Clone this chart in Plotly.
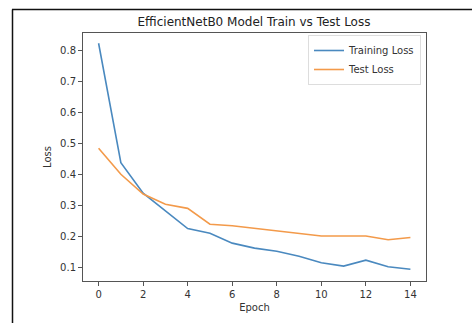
import plotly.graph_objects as go

epochs = list(range(15))
train_loss = [0.824, 0.439, 0.341, 0.284, 0.227, 0.212, 0.180, 0.164, 0.154, 0.138, 0.117, 0.106, 0.125, 0.104, 0.096]
test_loss = [0.486, 0.402, 0.338, 0.305, 0.292, 0.241, 0.236, 0.228, 0.220, 0.213, 0.203, 0.203, 0.203, 0.191, 0.198]
x_ticks = [0, 2, 4, 6, 8, 10, 12, 14]
y_ticks = [0.1, 0.2, 0.3, 0.4, 0.5, 0.6, 0.7, 0.8]

W, H = 472, 323
ml, mr, mt, mb = 83, 46, 33, 42
pw, ph = W - ml - mr, H - mt - mb

def px2paper_x(px):
    return (px - ml) / pw

def px2paper_y(py):
    return 1 - (py - mt) / ph

font = "DejaVu Sans"
fig = go.Figure()
fig.add_trace(go.Scatter(x=epochs, y=train_loss, mode="lines", name="Training Loss",
                         line=dict(color="#4a89bf", width=1.6)))
fig.add_trace(go.Scatter(x=epochs, y=test_loss, mode="lines", name="Test Loss",
                         line=dict(color="#f39a4a", width=1.6)))

axis_common = dict(showline=True, mirror=True, linecolor="#555555", linewidth=1,
                   ticks="outside", ticklen=4, tickcolor="#555555", showgrid=False,
                   zeroline=False, tickfont=dict(family=font, size=10, color="#333333"))

fig.update_layout(
    width=W, height=H,
    margin=dict(l=ml, r=mr, t=mt, b=mb),
    plot_bgcolor="white", paper_bgcolor="white",
    title=dict(text="EfficientNetB0 Model Train vs Test Loss", x=px2paper_x(254), xref="paper",
               xanchor="center", y=1 - 22 / H, yanchor="middle",
               font=dict(family=font, size=12, color="#222222")),
    xaxis=dict(range=[-0.7, 14.7], tickvals=x_ticks, ticktext=[str(v) for v in x_ticks],
               title=dict(text="Epoch", font=dict(family=font, size=10, color="#333333"), standoff=4),
               **axis_common),
    yaxis=dict(range=[0.058, 0.857], tickvals=y_ticks, ticktext=[f"{v:.1f}" for v in y_ticks],
               title=dict(text="Loss", font=dict(family=font, size=10, color="#333333"), standoff=6),
               **axis_common),
    legend=dict(x=px2paper_x(421), xanchor="right", y=px2paper_y(35), yanchor="top",
                bgcolor="rgba(255,255,255,0.8)", bordercolor="#dddddd", borderwidth=1,
                font=dict(family=font, size=10, color="#333333"), itemwidth=30,
                tracegroupgap=0),
    showlegend=True,
)

# screenshot frame lines (top and left)
fig.add_shape(type="line", xref="paper", yref="paper",
              x0=px2paper_x(12), x1=px2paper_x(W + 5), y0=px2paper_y(9.5), y1=px2paper_y(9.5),
              line=dict(color="#111111", width=1.5))
fig.add_shape(type="line", xref="paper", yref="paper",
              x0=px2paper_x(12.5), x1=px2paper_x(12.5), y0=px2paper_y(9.5), y1=px2paper_y(H + 5),
              line=dict(color="#111111", width=1.5))

fig.write_html("out.html")
